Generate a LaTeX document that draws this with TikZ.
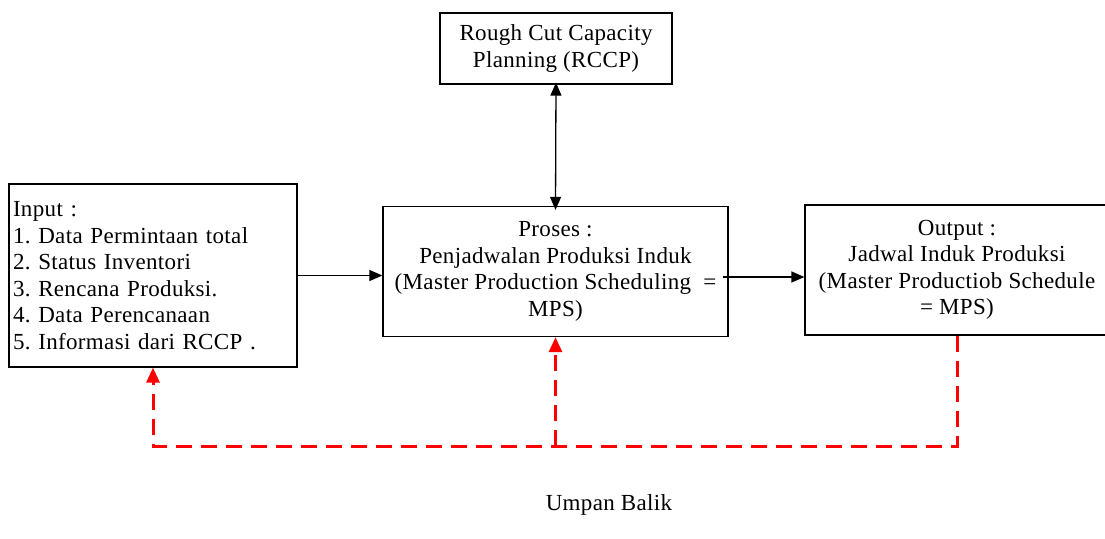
\documentclass[tikz,border=0pt]{standalone}
\usepackage{fontspec}
\setmainfont[LetterSpace=1.5]{Liberation Serif}
\usetikzlibrary{arrows.meta}
\frenchspacing
\begin{document}
\begin{tikzpicture}[x=1pt,y=-1pt,
  font=\fontsize{23}{26.5}\selectfont,
  box/.style={draw, line width=1.3pt, inner sep=0pt, align=center},
  link/.style={line width=1.3pt, -{Triangle[length=13pt,width=11pt]}},
  dlink/.style={line width=1.3pt, {Triangle[length=13pt,width=11pt]}-{Triangle[length=13pt,width=11pt]}},
  fb/.style={draw=red, line width=3pt, dash pattern=on 16pt off 9pt},
  fbarrow/.style={fb, -{Triangle[length=15pt,width=13pt]}}]
\useasboundingbox (0,0) rectangle (1105,538);

\node[box, minimum width=288pt, minimum height=183pt, inner xsep=4pt, text width=280pt, align=left] (inp) at (153,275.5)
  {Input :\\1. Data Permintaan total\\2. Status Inventori\\3. Rencana Produksi.\\4. Data Perencanaan\\5. Informasi dari RCCP .};
\node[box, minimum width=345pt, minimum height=130pt] (proc) at (555.5,271.5)
  {Proses :\\Penjadwalan Produksi Induk\\(Master Production Scheduling\ \ =\\MPS)};
\node[box, minimum width=304pt, minimum height=130pt] (out) at (957,270)
  {Output :\\Jadwal Induk Produksi\\(Master Productiob Schedule\\= MPS)};
\node[box, minimum width=232pt, minimum height=71pt] (rccp) at (556,48.5)
  {Rough Cut Capacity\\Planning (RCCP)};
\node (lbl) at (609,505) {Umpan Balik};

\draw[dlink] ([yshift=2pt]rccp.south) -- ([yshift=-4pt]proc.north);
\draw[link] (inp.east) -- (proc.west |- inp.east);
\draw[link] ([shift={(-6,5.5)}]proc.east) coordinate (pa) -- (out.west |- pa);

\coordinate (fbL) at (inp.south |- 0,446);
\draw[fbarrow] (out.south) -- (out.south |- fbL) -- (fbL) -- (inp.south);
\draw[fbarrow] (proc.south |- fbL) -- (proc.south);
\end{tikzpicture}
\end{document}
